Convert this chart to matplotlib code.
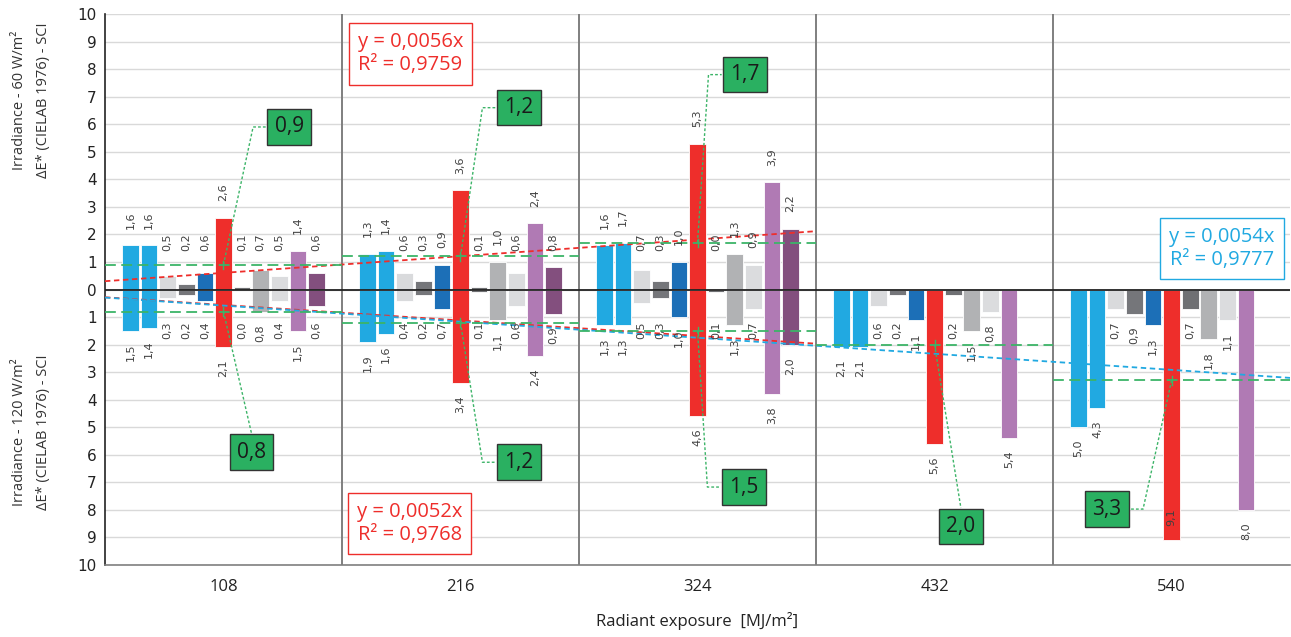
import numpy as np
import matplotlib
matplotlib.use("Agg")
import matplotlib.pyplot as plt

plt.rcParams['font.family'] = ['Open Sans', 'DejaVu Sans']

# ---------------- data ----------------
exposure = [108, 216, 324, 432, 540]
tick_labels = ["108", "216", "324", "432", "540"]
nan = np.nan

# 60 W/m2 (upper half); rows = exposure groups, cols = 11 samples
upper_108 = [1.6, 1.6, 0.5, 0.2, 0.6, 2.6, 0.1, 0.7, 0.5, 1.4, 0.6]
upper_216 = [1.3, 1.4, 0.6, 0.3, 0.9, 3.6, 0.1, 1.0, 0.6, 2.4, 0.8]
upper_324 = [1.6, 1.7, 0.7, 0.3, 1.0, 5.3, 0.0, 1.3, 0.9, 3.9, 2.2]
upper_432 = [nan] * 11
upper_540 = [nan] * 11

# 120 W/m2 (lower half)
lower_108 = [1.5, 1.4, 0.3, 0.2, 0.4, 2.1, 0.0, 0.8, 0.4, 1.5, 0.6]
lower_216 = [1.9, 1.6, 0.4, 0.2, 0.7, 3.4, 0.1, 1.1, 0.6, 2.4, 0.9]
lower_324 = [1.3, 1.3, 0.5, 0.3, 1.0, 4.6, 0.1, 1.3, 0.7, 3.8, 2.0]
lower_432 = [2.1, 2.1, 0.6, 0.2, 1.1, 5.6, 0.2, 1.5, 0.8, 5.4, nan]
lower_540 = [5.0, 4.3, 0.7, 0.9, 1.3, 9.1, 0.7, 1.8, 1.1, 8.0, nan]

# green threshold values (per group) for upper / lower
green_upper = [0.9, 1.2, 1.7, nan, nan]
green_lower = [0.8, 1.2, 1.5, 2.0, 3.3]

# trend lines (slopes, R2)
slope_up_red, r2_up_red = 0.0056, 0.9759
slope_lo_red, r2_lo_red = 0.0052, 0.9768
slope_lo_blue, r2_lo_blue = 0.0054, 0.9777

# ---------------- styling ----------------
colors = ['#21A9E1', '#21A9E1', '#D9DADC', '#75767A', '#1C6FB7', '#EE2E2B',
          '#6F7073', '#B1B2B4', '#DBDCDE', '#B07AB4', '#834F7E']
RED = '#EE2E2B'
BLUE = '#21A9E1'
GREEN = '#3CB468'
BOXGREEN = '#2AB061'
LBL = '#404040'

upper = np.array([upper_108, upper_216, upper_324, upper_432, upper_540])
lower = np.array([lower_108, lower_216, lower_324, lower_432, lower_540])
x = np.array(exposure, dtype=float)
step = 108.0
spacing = 8.48
width = 7.6

fig = plt.figure(figsize=(12.91, 6.37), dpi=100)
ax = fig.add_axes([0.0813, 0.113, 0.918, 0.865])
ax.set_xlim(54, 594)
ax.set_ylim(-10, 10)

# grid
for yv in range(-10, 11):
    ax.axhline(yv, color='#D9D9D9', lw=1.0, zorder=0)

# bars
for i in range(11):
    xi = x + (i - 5) * spacing
    ax.bar(xi, upper[:, i], width=width, color=colors[i], edgecolor='white',
           linewidth=0.6, zorder=2)
    ax.bar(xi, -lower[:, i], width=width, color=colors[i], edgecolor='white',
           linewidth=0.6, zorder=2)
    for g in range(5):
        v = upper[g, i]
        if not np.isnan(v):
            ly = max(v + 0.6, 1.4)
            ax.text(xi[g], ly, f"{v:.1f}".replace('.', ','), rotation=90,
                    ha='center', va='bottom', fontsize=8, color=LBL,
                    family='DejaVu Sans', zorder=6)
        v = lower[g, i]
        if not np.isnan(v):
            ly = max(v + 0.45, 1.15)
            if ly > 8.9:
                ly = v - 1.15
            ax.text(xi[g], -ly, f"{v:.1f}".replace('.', ','), rotation=90,
                    ha='center', va='top', fontsize=8, color=LBL,
                    family='DejaVu Sans', zorder=6)

# separators & zero line
for b in x[:-1] + step / 2:
    ax.axvline(b, color='#7F7F7F', lw=1.4, zorder=3)
ax.axhline(0, color='#222222', lw=1.3, zorder=4)

# trend lines
xs = np.array([54, 378])
ax.plot(xs, slope_up_red * xs, color=RED, lw=1.3, ls=(0, (3, 2)), zorder=5)
ax.plot(xs, -slope_lo_red * xs, color=RED, lw=1.3, ls=(0, (3, 2)), zorder=5)
xb = np.array([54, 594])
ax.plot(xb, -slope_lo_blue * xb, color=BLUE, lw=1.3, ls=(0, (3, 2)), zorder=5)

# green threshold lines
for g in range(5):
    x0, x1 = x[g] - step / 2, x[g] + step / 2
    for val, sgn in ((green_upper[g], 1), (green_lower[g], -1)):
        if np.isnan(val):
            continue
        ax.plot([x0, x1], [sgn * val] * 2, color=GREEN, lw=1.3,
                ls=(0, (6, 3)), zorder=5)
        ax.plot([x[g], x[g]], [sgn * val - 0.15, sgn * val + 0.15],
                color=GREEN, lw=1.0, zorder=5)

# green callout boxes: (group, sign, box centre x, box centre y, knee mode)
callouts = [
    (0, 1, 138.0, 5.9, 'side'),
    (0, -1, 120.8, -5.9, 'top'),
    (1, 1, 242.5, 6.6, 'side'),
    (1, -1, 242.5, -6.27, 'side'),
    (2, 1, 345.5, 7.8, 'side'),
    (2, -1, 345.0, -7.17, 'side'),
    (3, -1, 444.0, -8.6, 'top'),
    (4, -1, 510.5, -7.97, 'side'),
]
hw, hh = 10.5, 0.67
for g, sgn, bx, by, mode in callouts:
    val = green_upper[g] if sgn > 0 else green_lower[g]
    sx, sy = x[g], sgn * val
    if mode == 'top':
        ex, ey = bx, by + hh
        pts = [(sx, sy), (ex, ey)]
    else:
        if bx > sx:
            ex = bx - hw
            kx = ex - 6
        else:
            ex = bx + hw
            kx = ex + 6
        pts = [(sx, sy), (kx, by), (ex, by)]
    px, py = zip(*pts)
    ax.plot(px, py, color=GREEN, lw=1.0, ls=(0, (2, 1.5)), zorder=5)
    ax.text(bx, by, f"{val:.1f}".replace('.', ','), ha='center', va='center',
            fontsize=15, color='#1A1A1A', zorder=8,
            bbox=dict(boxstyle='square,pad=0.35', fc=BOXGREEN, ec='#333333', lw=1.0))

# equation boxes
def eq(xc, yc, slope, r2, col):
    s = f"y = {slope:.4f}x\nR² = {r2:.4f}".replace('.', ',')
    ax.text(xc, yc, s, ha='center', va='center', fontsize=14.5, color=col,
            linespacing=1.2, zorder=9,
            bbox=dict(boxstyle='square,pad=0.45', fc='white', ec=col, lw=1.0))

eq(193.2, 8.55, slope_up_red, r2_up_red, RED)
eq(192.8, -8.48, slope_lo_red, r2_lo_red, RED)
eq(563.0, 1.49, slope_lo_blue, r2_lo_blue, BLUE)

# axes styling
ax.set_xticks(x)
ax.set_xticklabels(tick_labels, fontsize=12, color='#222222')
yt = np.arange(-10, 11)
ax.set_yticks(yt)
ax.set_yticklabels([str(abs(v)) for v in yt], fontsize=11, color='#222222',
                   family='DejaVu Sans')
ax.tick_params(length=0, pad=6)
ax.tick_params(axis='x', pad=10)
for s in ['top', 'right']:
    ax.spines[s].set_visible(False)
ax.spines['left'].set_color('#222222')
ax.spines['left'].set_linewidth(1.2)
ax.spines['bottom'].set_color('#7F7F7F')
ax.spines['bottom'].set_linewidth(1.2)

ax.set_xlabel("Radiant exposure  [MJ/m²]", fontsize=12, color='#222222', labelpad=12)

fig.text(0.015, 0.843, "Irradiance - 60 W/m²", rotation=90, ha='center', va='center',
         fontsize=10.5, color='#333333')
fig.text(0.034, 0.843, "ΔE* (CIELAB 1976) - SCI", rotation=90, ha='center', va='center',
         fontsize=10.5, color='#333333')
fig.text(0.015, 0.322, "Irradiance - 120 W/m²", rotation=90, ha='center', va='center',
         fontsize=10.5, color='#333333')
fig.text(0.034, 0.322, "ΔE* (CIELAB 1976) - SCI", rotation=90, ha='center', va='center',
         fontsize=10.5, color='#333333')

fig.savefig("out.png", dpi=100)
